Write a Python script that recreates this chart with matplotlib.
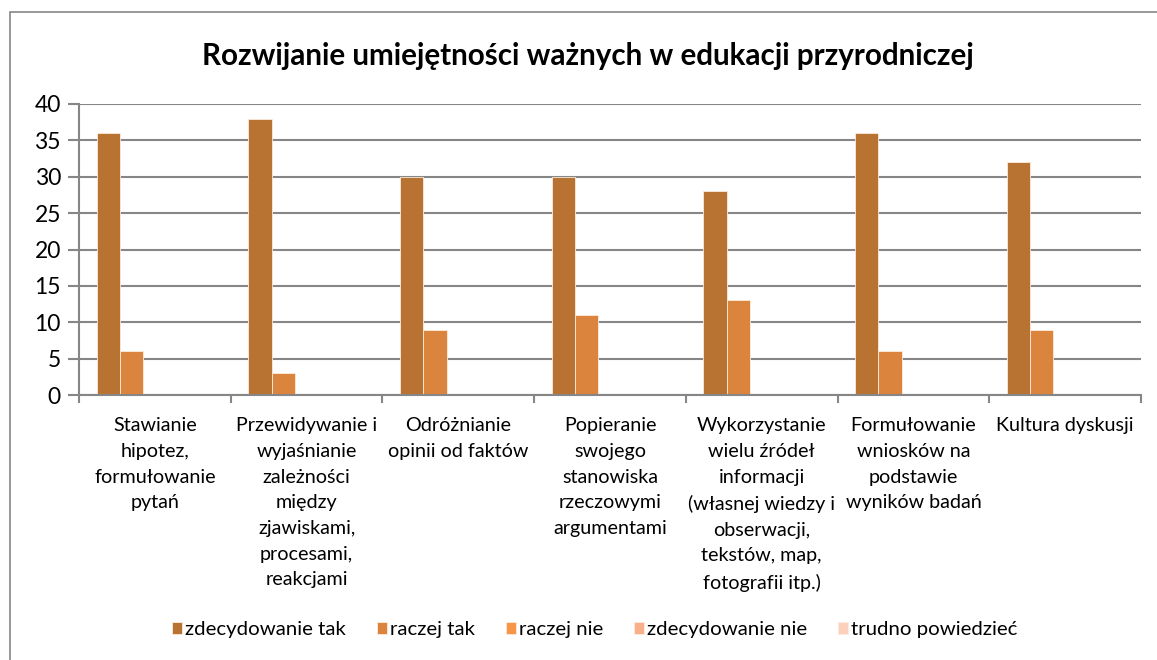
import numpy as np
import matplotlib.pyplot as plt
from matplotlib.patches import Rectangle

categories = [
    "Stawianie\nhipotez,\nformułowanie\npytań",
    "Przewidywanie i\nwyjaśnianie\nzależności\nmiędzy\nzjawiskami,\nprocesami,\nreakcjami",
    "Odróżnianie\nopinii od faktów",
    "Popieranie\nswojego\nstanowiska\nrzeczowymi\nargumentami",
    "Wykorzystanie\nwielu źródeł\ninformacji\n(własnej wiedzy i\nobserwacji,\ntekstów, map,\nfotografii itp.)",
    "Formułowanie\nwniosków na\npodstawie\nwyników badań",
    "Kultura dyskusji",
]
series_names = ["zdecydowanie tak", "raczej tak", "raczej nie",
                "zdecydowanie nie", "trudno powiedzieć"]
zdecydowanie_tak = [36, 38, 30, 30, 28, 36, 32]
raczej_tak = [6, 3, 9, 11, 13, 6, 9]
raczej_nie = [0, 0, 0, 0, 0, 0, 0]
zdecydowanie_nie = [0, 0, 0, 0, 0, 0, 0]
trudno_powiedziec = [0, 0, 0, 0, 0, 0, 0]
colors = ["#B87333", "#DB843D", "#F79646", "#F9B08A", "#FBD0BC"]

plt.rcParams['font.family'] = ['Lato', 'DejaVu Sans']

W, H = 1157, 660
fig = plt.figure(figsize=(W / 100, H / 100), dpi=100)
# chart border (only left and top edges fall inside the picture)
fig.patches.append(Rectangle((10 / W, -0.1), 1.2, (H - 12) / H + 0.1,
                             transform=fig.transFigure, fill=False,
                             edgecolor="#868686", linewidth=1.2))

ax = fig.add_axes([79 / W, (H - 395) / H, (1141 - 79) / W, (395 - 104) / H])
x = np.arange(len(categories))
w = 1 / 6.5  # 5 bars + 150% gap
all_series = [zdecydowanie_tak, raczej_tak, raczej_nie, zdecydowanie_nie, trudno_powiedziec]
for i, (name, vals, c) in enumerate(zip(series_names, all_series, colors)):
    ax.bar(x + (i - 2) * w, vals, width=w, color=c, label=name,
           edgecolor="#FDEBDD", linewidth=0.6)

ax.set_xlim(-0.5, len(categories) - 0.5)
ax.set_ylim(0, 40)
ax.set_yticks(range(0, 41, 5))
ax.yaxis.grid(True, color="#868686", linewidth=1.5)
ax.set_axisbelow(True)
for s in ["top", "right"]:
    ax.spines[s].set_visible(False)
for s in ["left", "bottom"]:
    ax.spines[s].set_color("#868686")
    ax.spines[s].set_linewidth(1.5)

ax.set_xticks(x)
ax.set_xticklabels(categories, fontsize=14.2, linespacing=1.62, va="top")
ax.tick_params(axis="x", length=0, pad=16)
ax.set_xticks(np.arange(-0.5, len(categories)), minor=True)
ax.tick_params(axis="x", which="minor", length=6, width=1.5, color="#868686")
ax.tick_params(axis="y", length=8, width=1.5, color="#868686", labelsize=16.5, pad=5)

fig.suptitle("Rozwijanie umiejętności ważnych w edukacji przyrodniczej",
             x=0.508, y=1 - 56 / H, va="center", fontsize=21.3, fontweight="bold")

fig.legend(loc="center", bbox_to_anchor=(0.514, 1 - 630 / H), ncol=5,
           frameon=False, fontsize=14.7, handlelength=0.5, handleheight=0.5,
           handletextpad=0.15, columnspacing=1.5)

fig.savefig("out.png", dpi=100)
